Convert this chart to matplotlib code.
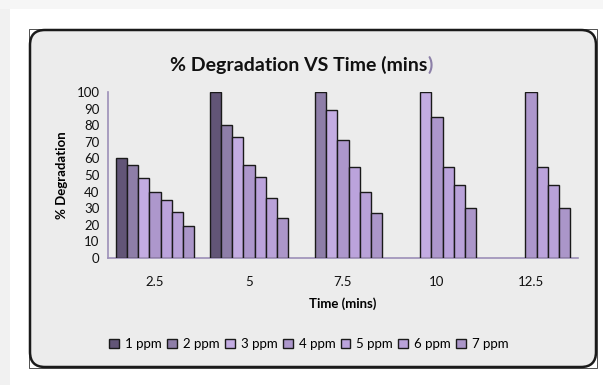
import matplotlib
matplotlib.use("Agg")
import matplotlib.pyplot as plt
from matplotlib.patches import Rectangle, FancyBboxPatch
import numpy as np

times = ['2.5', '5', '7.5', '10', '12.5']
series_names = ['1 ppm', '2 ppm', '3 ppm', '4 ppm', '5 ppm', '6 ppm', '7 ppm']
ppm_1 = [60, 100, 0, 0, 0]
ppm_2 = [56, 80, 100, 0, 0]
ppm_3 = [48, 73, 89, 100, 0]
ppm_4 = [40, 56, 71, 85, 100]
ppm_5 = [35, 49, 55, 55, 55]
ppm_6 = [28, 36, 40, 44, 44]
ppm_7 = [19, 24, 27, 30, 30]
series = [ppm_1, ppm_2, ppm_3, ppm_4, ppm_5, ppm_6, ppm_7]
colors = ['#625577', '#8e7ea8', '#c3ace2', '#ad97cc', '#bba3dc', '#b9a2d9', '#ab96c9']

plt.rcParams['font.family'] = ['Lato', 'DejaVu Sans']

W, H = 603, 385
fig = plt.figure(figsize=(W / 100, H / 100), dpi=100)
fig.patch.set_facecolor('white')

def fx(x):
    return x / W

def fy(y):
    return 1 - y / H

# page shadow strip at left / top
fig.add_artist(Rectangle((0, 0), fx(10), 1, transform=fig.transFigure,
                         facecolor='#f1f1f1', edgecolor='none', zorder=0))
fig.add_artist(Rectangle((0, fy(9)), 1, 9 / H, transform=fig.transFigure,
                         facecolor='#f6f6f6', edgecolor='none', zorder=0))

# chart frame
x0, y0, x1, y1 = 29, 29, 597, 368
fig.add_artist(Rectangle((fx(x0), fy(y1)), fx(x1 - x0), (y1 - y0) / H,
                         transform=fig.transFigure, facecolor='white',
                         edgecolor='#333333', lw=0.6, zorder=0.5))
r = 15
fig.add_artist(FancyBboxPatch((fx(x0 + 1 + r), fy(y1 - 1 - r)),
                              fx(x1 - x0 - 2 - 2 * r), (y1 - y0 - 2 - 2 * r) / H,
                              boxstyle=f"round,pad={r / W}",
                              transform=fig.transFigure, mutation_aspect=W / H,
                              facecolor='#ececec', edgecolor='#1a1a1a', lw=1.8,
                              zorder=0.6))

ax = fig.add_axes([fx(108), fy(258), fx(578 - 108), (258 - 92) / H])
ax.set_facecolor('none')
ax.set_zorder(2)

n = len(series)
w = 0.119
xs = np.arange(len(times))
for j, (vals, c, name) in enumerate(zip(series, colors, series_names)):
    vals = np.array(vals, dtype=float)
    pos = xs + (j - (n - 1) / 2) * w
    mask = vals > 0
    ax.bar(pos[mask], vals[mask], width=w, color=c, edgecolor='#1a1a1a',
           linewidth=1.0, zorder=3)
    ax.bar([np.nan], [0], width=w, color=c, edgecolor='#1a1a1a', linewidth=1.0,
           label=name)

ax.set_xlim(-0.5, len(times) - 0.5)
ax.set_ylim(0, 100)
ax.set_yticks(np.arange(0, 101, 10))
ax.set_xticks(xs)
ax.set_xticklabels(times)
ax.tick_params(axis='both', length=0, labelsize=9.5, colors='#111111')
ax.tick_params(axis='x', pad=13)
ax.tick_params(axis='y', pad=6)
for s in ['top', 'right']:
    ax.spines[s].set_visible(False)
for s in ['left', 'bottom']:
    ax.spines[s].set_color('#9c8fb8')
    ax.spines[s].set_linewidth(1.2)

ax.set_ylabel('% Degradation', fontsize=9.5, fontweight='bold')
ax.yaxis.set_label_coords(fx(62 - 108) / fx(578 - 108), 0.5)
ax.yaxis.label.set_va('center')
ax.set_xlabel('Time (mins)', fontsize=9.5, fontweight='bold')
ax.xaxis.set_label_coords(0.5, -(304 - 258) / (258 - 92))
ax.xaxis.label.set_va('center')

title_fs = 14
t1 = fig.text(fx(170), fy(65), '% Degradation VS Time (mins', fontsize=title_fs,
              fontweight='bold', ha='left', va='center', color='#111111')
fig.canvas.draw()
bb = t1.get_window_extent()
fig.text(bb.x1 / W, fy(65), ')', fontsize=title_fs, fontweight='bold',
         ha='left', va='center', color='#8c80a8')

leg = fig.legend(loc='center', bbox_to_anchor=(fx(309), fy(344)), ncol=7,
                 frameon=False, fontsize=9.5, handlelength=0.75, handleheight=0.75,
                 handletextpad=0.45, columnspacing=0.4, borderaxespad=0)

fig.savefig('out.png', dpi=100)
